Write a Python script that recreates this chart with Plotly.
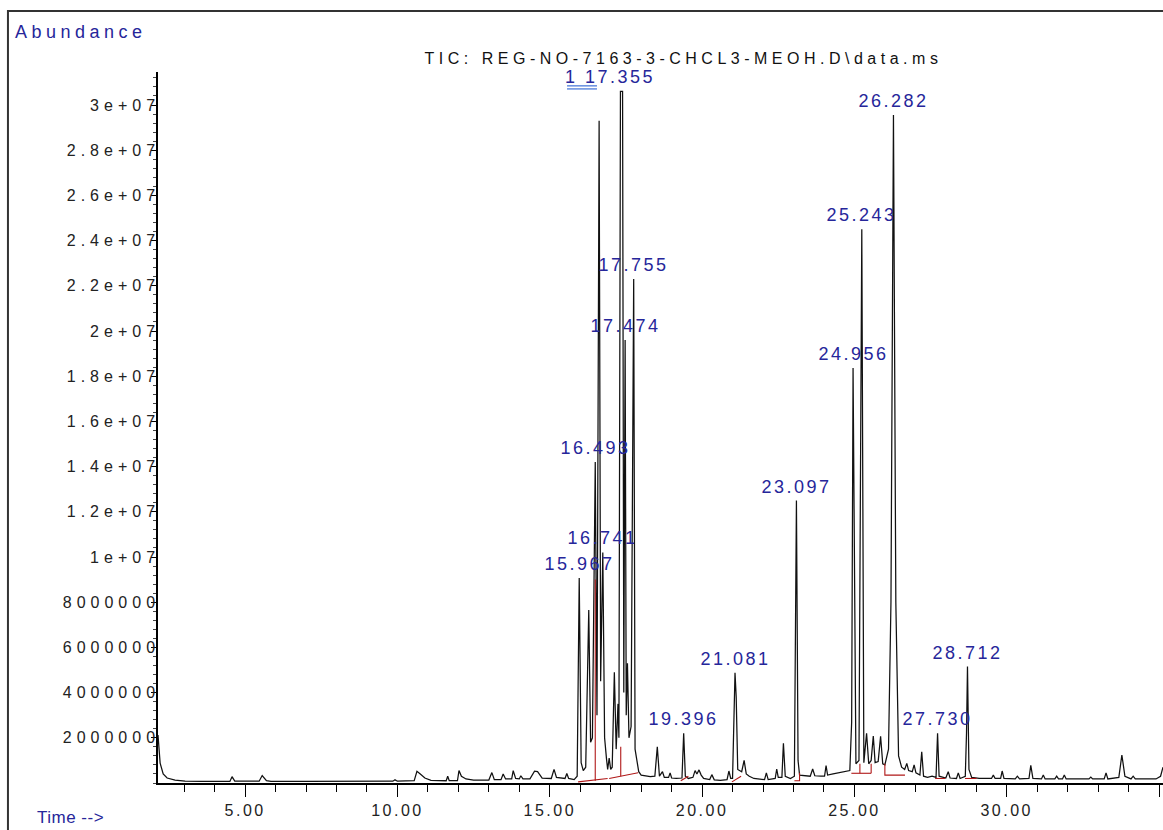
import plotly.graph_objects as go

# ---------------- data ----------------
retention_time_min = [
    2.14, 2.21, 2.31, 2.44, 2.70, 3.03, 3.60, 4.50, 4.57, 4.66, 5.46, 5.56, 5.70, 5.85,
    7.00, 8.50, 9.60, 9.85, 9.92, 10.00, 10.55, 10.64, 10.75, 10.90, 11.10, 11.30,
    11.60, 11.65, 11.70, 11.97, 12.02, 12.10, 12.25, 12.50, 12.80, 13.00, 13.10, 13.18,
    13.40, 13.47, 13.55, 13.75, 13.80, 13.88, 14.00, 14.05, 14.12, 14.35, 14.50, 14.60,
    14.75, 15.05, 15.14, 15.22, 15.50, 15.56, 15.62, 15.80, 15.90, 15.967, 16.03, 16.10,
    16.18, 16.28, 16.34, 16.40, 16.493, 16.55, 16.62, 16.67, 16.741, 16.80, 16.86, 16.90,
    16.95, 17.00, 17.05, 17.12, 17.18, 17.24, 17.27, 17.32, 17.39, 17.43, 17.474, 17.51,
    17.55, 17.60, 17.67, 17.755, 17.80, 17.86, 17.92, 18.00, 18.15, 18.30, 18.45, 18.53,
    18.60, 18.70, 18.76, 18.90, 18.95, 19.00, 19.15, 19.34, 19.396, 19.45, 19.55, 19.70,
    19.77, 19.83, 19.90, 19.97, 20.05, 20.25, 20.32, 20.40, 20.60, 20.82, 20.88, 20.94,
    21.00, 21.05, 21.081, 21.12, 21.17, 21.30, 21.38, 21.45, 21.55, 21.70, 22.05, 22.11,
    22.17, 22.40, 22.45, 22.50, 22.62, 22.67, 22.73, 22.90, 23.03, 23.097, 23.15, 23.20,
    23.55, 23.63, 23.70, 23.90, 24.02, 24.07, 24.12, 24.30, 24.50, 24.70, 24.85, 24.91,
    24.956, 25.05, 25.15, 25.243, 25.31, 25.40, 25.47, 25.55, 25.62, 25.68, 25.78, 25.86,
    25.93, 26.00, 26.12, 26.20, 26.282, 26.36, 26.45, 26.55, 26.65, 26.72, 26.78, 26.90,
    26.96, 27.02, 27.15, 27.21, 27.27, 27.40, 27.55, 27.68, 27.73, 27.78, 28.00, 28.08,
    28.14, 28.35, 28.41, 28.47, 28.64, 28.68, 28.712, 28.76, 28.85, 29.10, 29.50, 29.56,
    29.62, 29.80, 29.85, 29.91, 30.28, 30.35, 30.42, 30.73, 30.79, 30.86, 31.14, 31.20,
    31.26, 31.58, 31.64, 31.70, 31.83, 31.89, 31.95, 32.30, 32.70, 32.76, 32.82, 33.20,
    33.26, 33.32, 33.68, 33.78, 33.88, 34.08, 34.15, 34.22, 34.50, 34.90, 35.05, 35.13,
]
abundance_millions = [
    2.12, 0.88, 0.40, 0.22, 0.13, 0.08, 0.07, 0.07, 0.28, 0.08, 0.08, 0.33, 0.10, 0.07,
    0.07, 0.08, 0.08, 0.08, 0.14, 0.08, 0.10, 0.52, 0.40, 0.22, 0.12, 0.10,
    0.10, 0.30, 0.10, 0.10, 0.55, 0.30, 0.18, 0.13, 0.12, 0.13, 0.46, 0.15,
    0.15, 0.40, 0.18, 0.18, 0.55, 0.20, 0.18, 0.32, 0.18, 0.18, 0.52, 0.50,
    0.22, 0.20, 0.60, 0.25, 0.20, 0.42, 0.20, 0.15, 0.30, 9.07, 0.90, 0.55,
    0.70, 7.65, 1.80, 2.00, 14.2, 3.00, 29.3, 4.50, 10.2, 2.00, 1.10, 0.60,
    1.10, 0.60, 0.70, 4.90, 1.50, 3.50, 2.00, 30.6, 30.6, 4.00, 19.6, 3.00,
    5.30, 2.00, 2.50, 22.3, 1.50, 1.00, 0.50, 0.35, 0.30, 0.28, 0.30, 1.60,
    0.30, 0.50, 0.25, 0.25, 0.45, 0.22, 0.20, 0.22, 2.20, 0.30, 0.20, 0.25,
    0.55, 0.40, 0.58, 0.35, 0.20, 0.15, 0.37, 0.14, 0.12, 0.15, 0.53, 0.20,
    0.20, 3.50, 4.88, 3.80, 0.60, 0.50, 1.00, 0.40, 0.30, 0.20, 0.15, 0.45,
    0.15, 0.20, 0.62, 0.25, 0.25, 1.76, 0.30, 0.20, 0.30, 12.5, 1.00, 0.35,
    0.30, 0.62, 0.32, 0.30, 0.30, 0.77, 0.35, 0.40, 0.45, 0.50, 0.55, 2.70,
    18.36, 0.85, 1.00, 24.5, 0.90, 2.20, 0.85, 1.00, 2.08, 0.90, 0.95, 2.07,
    0.85, 0.80, 1.50, 8.00, 29.56, 8.00, 1.20, 0.70, 0.60, 0.87, 0.55, 0.50,
    0.80, 0.45, 0.35, 1.38, 0.30, 0.25, 0.30, 0.25, 2.20, 0.30, 0.22, 0.50,
    0.22, 0.20, 0.45, 0.20, 0.30, 2.20, 5.15, 0.60, 0.25, 0.20, 0.20, 0.35,
    0.20, 0.20, 0.53, 0.20, 0.18, 0.30, 0.18, 0.20, 0.78, 0.20, 0.18, 0.35,
    0.18, 0.18, 0.30, 0.18, 0.18, 0.35, 0.18, 0.18, 0.18, 0.26, 0.18, 0.18,
    0.45, 0.18, 0.25, 1.24, 0.30, 0.18, 0.30, 0.18, 0.18, 0.18, 0.30, 0.70,
]

# integration baseline marks (red), None separates segments
baseline_rt = [15.93, 16.90, None, 16.493, 16.493, None, 16.95, 17.90, None, 17.33, 17.33, None,
               19.30, 19.55, None, 20.98, 21.28, None, 23.03, 23.20, 23.20, None,
               24.90, 25.55, None, 25.18, 25.18, None, 25.55, 25.55, None,
               26.00, 26.00, 26.66, None, 27.65, 27.98, None, 28.63, 29.01]
baseline_millions = [0.05, 0.20, None, 0.10, 9.0, None, 0.20, 0.45, None, 0.30, 1.6, None,
                     0.10, 0.30, None, 0.05, 0.30, None, 0.10, 0.10, 0.45, None,
                     0.43, 0.43, None, 0.43, 0.85, None, 0.43, 0.85, None,
                     0.85, 0.35, 0.35, None, 0.20, 0.20, None, 0.20, 0.20]

# labelled peaks
peak_rt = [15.967, 16.493, 16.741, 17.355, 17.474, 17.755, 19.396, 21.081,
           23.097, 24.956, 25.243, 26.282, 27.730, 28.712]
peak_millions = [9.07, 14.2, 10.2, 30.6, 19.6, 22.3, 2.20, 4.88,
                 12.5, 18.36, 24.5, 29.56, 2.20, 5.15]
peak_text = ["15.967", "16.493", "16.741", "1 17.355", "17.474", "17.755", "19.396",
             "21.081", "23.097", "24.956", "25.243", "26.282", "27.730", "28.712"]

y_tick_values = [2e6, 4e6, 6e6, 8e6, 1e7, 1.2e7, 1.4e7, 1.6e7, 1.8e7, 2e7,
                 2.2e7, 2.4e7, 2.6e7, 2.8e7, 3e7]
y_tick_text = ["2000000", "4000000", "6000000", "8000000", "1e+07", "1.2e+07", "1.4e+07",
               "1.6e+07", "1.8e+07", "2e+07", "2.2e+07", "2.4e+07", "2.6e+07", "2.8e+07", "3e+07"]

title_text = "TIC: REG-NO-7163-3-CHCL3-MEOH.D\\data.ms"

# ---------------- figure ----------------
FONT = "Liberation Sans, Arial, sans-serif"
BLUE = "#26269a"
LINK_BLUE = "#3d6fd6"
M = 1e6

abundance = [v * M for v in abundance_millions]
baseline = [None if v is None else v * M for v in baseline_millions]
peak_abund = [v * M for v in peak_millions]

fig = go.Figure()
fig.add_trace(go.Scatter(x=retention_time_min, y=abundance, mode="lines",
                         line=dict(color="#111111", width=1.25), hoverinfo="skip",
                         showlegend=False))
fig.add_trace(go.Scatter(x=baseline_rt, y=baseline, mode="lines",
                         line=dict(color="#b01818", width=1.1), hoverinfo="skip",
                         showlegend=False, connectgaps=False))

annotations = [
    dict(text="Abundance", xref="paper", yref="paper", x=-0.1443, y=1.0563,
         xanchor="left", yanchor="middle", align="left", showarrow=False,
         font=dict(family=FONT, size=18, color=BLUE)),
    dict(text="Time -->", xref="paper", yref="paper", x=-0.1224, y=-0.0492,
         xanchor="left", yanchor="middle", align="left", showarrow=False,
         font=dict(family=FONT, size=17, color=BLUE)),
]
for t, a, s in zip(peak_rt, peak_abund, peak_text):
    annotations.append(dict(text=s, x=t, y=a, xref="x", yref="y", showarrow=False,
                            xanchor="center", yanchor="bottom", yshift=2,
                            xshift=-12 if s.startswith("1 ") else 0,
                            font=dict(family=FONT, size=18, color=BLUE)))

# double underline under the "1 1" of the first (off-scale) peak label
underline_shapes = [
    dict(type="line", xref="paper", yref="paper", x0=0.407, x1=0.4368, y0=yy, y1=yy,
         line=dict(color=LINK_BLUE, width=1.2))
    for yy in (0.9805, 0.9762)
]

fig.update_layout(
    width=1163, height=830,
    margin=dict(l=158, r=0, t=72, b=47),
    paper_bgcolor="white", plot_bgcolor="white",
    title=dict(text=title_text, x=683.5 / 1163, xref="container", xanchor="center",
               y=1 - 58 / 830, yref="container", yanchor="middle",
               font=dict(family=FONT, size=16, color="#111111")),
    annotations=annotations,
    shapes=[dict(type="rect", xref="paper", yref="paper", x0=-0.1493, x1=1.1,
                 y0=-0.3, y1=1.0858, line=dict(color="#333333", width=2), layer="below")]
           + underline_shapes,
    xaxis=dict(range=[2.14, 35.13], showgrid=False, zeroline=False, showline=True,
               linecolor="black", linewidth=1.5, ticks="outside", ticklen=12, tickwidth=1.3,
               tickcolor="black", tick0=0, dtick=5, tickformat=".2f",
               tickfont=dict(family=FONT, size=16, color="#222222"),
               minor=dict(dtick=1, ticks="outside", ticklen=7, tickwidth=1.2, tickcolor="black")),
    yaxis=dict(range=[0, 31.46e6], showgrid=False, zeroline=False, showline=True,
               linecolor="black", linewidth=1.5, ticks="outside", ticklen=5, tickwidth=1.3,
               tickcolor="black", tickvals=y_tick_values, ticktext=y_tick_text,
               ticklabelstandoff=-12,
               tickfont=dict(family=FONT, size=16, color="#222222"),
               minor=dict(dtick=4e5, ticks="outside", ticklen=3, tickwidth=1, tickcolor="#444444")),
)

css_js = """
var s = document.createElement('style');
s.textContent = '.ytick text{letter-spacing:5px}' +
  '.xtick text{letter-spacing:2.5px}' +
  '.gtitle{letter-spacing:4.5px}' +
  '.annotation text{letter-spacing:2.5px}' +
  '.annotation[data-index="0"] text{letter-spacing:4.5px}' +
  '.annotation[data-index="1"] text{letter-spacing:0.5px}';
document.head.appendChild(s);
"""

fig.write_html("out.html", post_script=css_js, config={"displayModeBar": False})
